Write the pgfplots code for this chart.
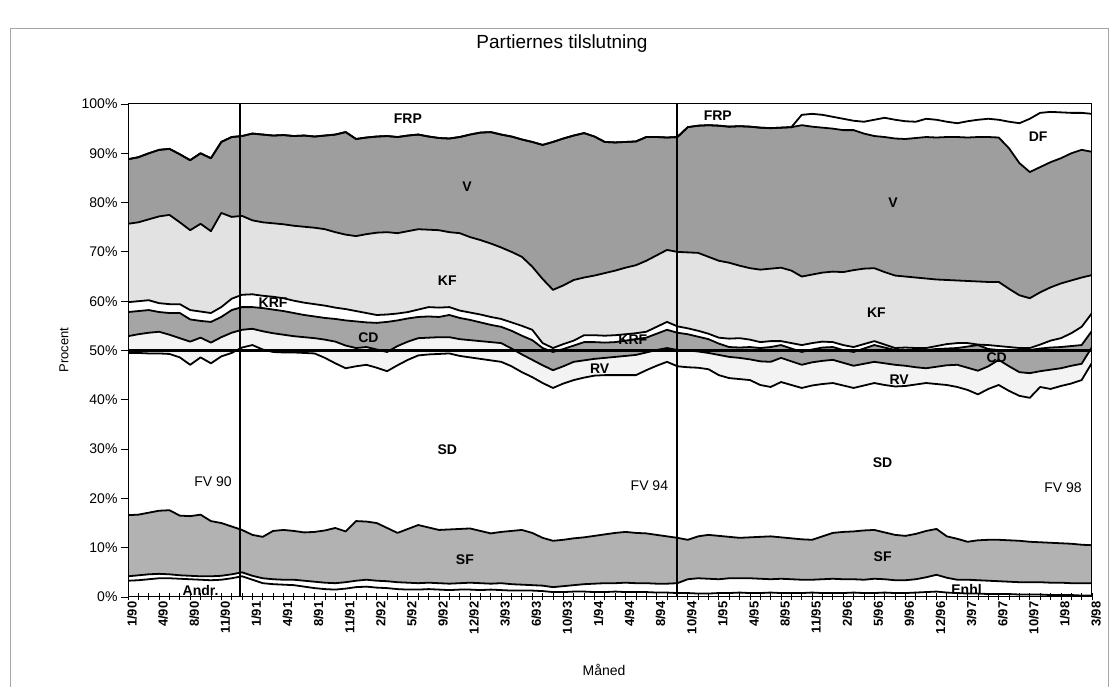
\documentclass[border=0pt]{standalone}
\usepackage{pgfplots}
\usepackage{pgfplotstable}
\usepackage{fontspec}
\setmainfont{Liberation Sans}
\pgfplotsset{compat=1.18}
\definecolor{vgray}{RGB}{158,158,158}
\definecolor{cdgray}{RGB}{165,165,165}
\definecolor{sfgray}{RGB}{178,178,178}
\definecolor{kflight}{RGB}{226,226,226}
\definecolor{rvlight}{RGB}{243,243,243}
\pgfplotstableread{
i andr enhl sf sd rv cd krf kf v df
0 3.3 4.2 16.6 49.5 52.9 57.8 59.8 75.7 88.8 88.8
1 3.4 4.4 16.7 49.5 53.3 58.0 60.0 76.0 89.2 89.2
2 3.6 4.6 17.1 49.4 53.6 58.2 60.2 76.6 90.0 90.0
3 3.8 4.7 17.5 49.4 53.8 57.8 59.6 77.2 90.7 90.7
4 3.8 4.6 17.6 49.3 53.2 57.6 59.4 77.5 90.9 90.9
5 3.7 4.4 16.5 48.6 52.5 57.6 59.4 76.0 89.8 89.8
6 3.6 4.3 16.4 47.1 51.8 56.3 58.2 74.4 88.6 88.6
7 3.5 4.2 16.7 48.6 52.6 56.0 57.9 75.7 90.0 90.0
8 3.4 4.2 15.4 47.4 51.6 55.8 57.6 74.2 89.0 89.0
9 3.5 4.3 15.0 48.8 52.7 56.8 58.8 77.9 92.3 92.3
10 3.8 4.6 14.3 49.5 53.6 58.2 60.5 77.1 93.3 93.3
11 4.2 5.0 13.6 50.6 54.2 58.8 61.3 77.3 93.5 93.5
12 3.5 4.3 12.6 51.1 54.4 58.8 61.4 76.4 94.0 94.0
13 2.8 3.8 12.2 50.2 53.9 58.6 61.1 76.0 93.8 93.8
14 2.6 3.6 13.4 49.7 53.5 58.3 60.9 75.8 93.6 93.6
15 2.5 3.5 13.6 49.6 53.2 58.0 60.6 75.6 93.7 93.7
16 2.4 3.5 13.4 49.6 52.9 57.6 60.1 75.3 93.5 93.5
17 2.1 3.3 13.1 49.5 52.7 57.2 59.7 75.1 93.6 93.6
18 1.8 3.1 13.2 49.4 52.5 56.9 59.4 74.9 93.4 93.4
19 1.6 2.9 13.5 48.5 52.2 56.6 59.1 74.6 93.6 93.6
20 1.5 2.8 14.0 47.4 51.8 56.4 58.7 74.0 93.8 93.8
21 1.7 3.0 13.3 46.4 51.0 56.1 58.4 73.5 94.3 94.3
22 2.0 3.3 15.4 46.8 50.5 55.9 58.0 73.2 92.9 92.9
23 2.1 3.5 15.3 47.1 50.7 55.7 57.6 73.6 93.2 93.2
24 1.9 3.3 15.0 46.5 50.2 55.6 57.2 73.9 93.4 93.4
25 1.8 3.2 14.0 45.8 49.7 55.8 57.3 74.0 93.5 93.5
26 1.6 3.0 13.0 47.0 50.9 56.1 57.5 73.8 93.3 93.3
27 1.5 2.9 13.8 48.1 51.8 56.5 57.8 74.2 93.6 93.6
28 1.5 2.8 14.6 49.0 52.5 56.8 58.3 74.6 93.8 93.8
29 1.6 2.9 14.1 49.2 52.6 56.9 58.8 74.5 93.4 93.4
30 1.5 2.8 13.6 49.3 52.7 56.8 58.7 74.4 93.1 93.1
31 1.4 2.7 13.7 49.4 52.7 57.2 58.8 74.0 93.0 93.0
32 1.5 2.8 13.8 48.9 52.3 56.6 58.1 73.8 93.3 93.3
33 1.5 2.9 13.9 48.6 52.1 56.2 57.7 73.0 93.8 93.8
34 1.4 2.8 13.4 48.3 51.9 55.7 57.3 72.4 94.2 94.2
35 1.5 2.7 12.9 48.0 51.7 55.2 56.8 71.7 94.3 94.3
36 1.4 2.8 13.2 47.7 51.5 54.8 56.4 70.9 93.8 93.8
37 1.3 2.6 13.4 46.8 50.4 54.0 55.7 70.0 93.4 93.4
38 1.3 2.5 13.6 45.6 49.2 53.0 55.0 69.0 92.8 92.8
39 1.3 2.4 13.0 44.6 48.1 52.1 54.2 67.0 92.3 92.3
40 1.2 2.3 12.0 43.4 47.0 50.5 51.5 64.5 91.7 91.7
41 1.0 2.0 11.4 42.4 46.0 49.7 50.5 62.3 92.3 92.3
42 1.0 2.2 11.6 43.3 46.8 50.3 51.3 63.2 93.0 93.0
43 1.1 2.4 11.9 44.0 47.7 51.0 52.0 64.3 93.6 93.6
44 1.1 2.6 12.1 44.5 48.0 51.7 53.1 64.8 94.1 94.1
45 1.0 2.7 12.4 44.9 48.3 51.7 53.1 65.2 93.4 93.4
46 1.0 2.8 12.7 45.0 48.5 51.6 53.0 65.7 92.3 92.3
47 1.1 2.8 13.0 45.0 48.7 51.7 53.1 66.2 92.2 92.2
48 1.0 2.9 13.2 45.0 48.9 52.0 53.3 66.8 92.3 92.3
49 1.0 2.8 13.0 45.0 49.1 52.3 53.5 67.3 92.4 92.4
50 1.0 2.8 12.9 46.0 49.6 52.6 53.8 68.2 93.3 93.3
51 0.9 2.7 12.6 46.9 50.1 53.4 54.8 69.3 93.3 93.3
52 0.9 2.7 12.3 47.7 50.5 54.2 55.8 70.4 93.2 93.2
53 0.8 2.8 12.0 46.8 50.1 53.6 54.9 70.0 93.3 93.3
54 0.8 3.6 11.6 46.6 50.0 53.3 54.5 69.9 95.3 95.3
55 0.7 3.8 12.3 46.5 49.8 52.8 54.0 69.8 95.6 95.6
56 0.7 3.7 12.6 46.2 49.5 52.3 53.4 69.0 95.7 95.7
57 0.8 3.6 12.4 45.0 49.1 51.4 52.6 68.2 95.6 95.6
58 0.8 3.8 12.2 44.4 48.7 50.7 52.4 67.8 95.4 95.4
59 0.9 3.8 12.0 44.2 48.5 50.6 52.5 67.2 95.5 95.5
60 0.8 3.8 12.1 44.0 48.2 50.7 52.2 66.7 95.4 95.4
61 0.8 3.7 12.2 43.0 47.8 50.5 51.7 66.4 95.2 95.2
62 0.9 3.6 12.3 42.6 47.7 50.7 51.9 66.6 95.1 95.1
63 0.8 3.7 12.1 43.6 48.5 51.1 51.9 66.8 95.2 95.2
64 0.8 3.6 11.9 43.0 47.8 50.4 51.5 66.2 95.3 95.3
65 0.8 3.5 11.7 42.4 47.1 49.7 51.1 65.0 95.7 97.8
66 0.9 3.5 11.6 42.9 47.6 50.2 51.5 65.4 95.4 98.0
67 0.8 3.6 12.3 43.2 47.9 50.6 51.8 65.8 95.2 97.8
68 0.8 3.7 13.0 43.4 48.1 50.7 51.7 66.0 95.0 97.4
69 0.8 3.6 13.2 42.9 47.5 50.1 51.1 65.9 94.7 97.0
70 0.9 3.6 13.3 42.4 46.9 49.7 50.7 66.3 94.7 96.6
71 0.8 3.5 13.5 42.9 47.3 50.4 51.3 66.6 94.0 96.4
72 0.8 3.7 13.6 43.4 47.7 51.1 51.9 66.7 93.5 96.8
73 0.9 3.6 13.1 43.0 47.4 50.6 51.2 65.9 93.3 97.2
74 0.8 3.4 12.6 42.7 47.1 50.1 50.5 65.2 93.0 96.8
75 0.8 3.4 12.4 42.8 46.9 50.1 50.6 65.0 92.9 96.5
76 0.9 3.6 12.8 43.1 46.6 50.1 50.5 64.8 93.1 96.4
77 1.0 4.0 13.4 43.4 46.4 50.1 50.5 64.6 93.3 97.0
78 1.1 4.5 13.8 43.2 46.7 50.3 50.9 64.4 93.2 96.8
79 0.9 3.9 12.3 43.0 47.0 50.4 51.3 64.3 93.3 96.4
80 0.8 3.5 11.8 42.6 47.1 50.5 51.5 64.2 93.3 96.1
81 0.7 3.5 11.2 42.0 46.5 50.8 51.5 64.1 93.2 96.5
82 0.7 3.4 11.5 41.1 45.9 51.1 51.2 64.0 93.3 96.8
83 0.6 3.3 11.6 42.2 46.8 50.3 51.1 63.9 93.3 97.0
84 0.6 3.2 11.6 43.0 48.1 50.1 50.9 63.9 93.2 96.8
85 0.6 3.1 11.5 41.8 46.8 50.1 50.7 62.5 91.0 96.4
86 0.5 3.0 11.4 40.8 45.6 50.1 50.5 61.2 88.0 96.1
87 0.5 3.0 11.2 40.4 45.4 50.1 50.5 60.6 86.2 97.0
88 0.5 3.0 11.1 42.6 45.8 50.4 51.2 61.8 87.2 98.2
89 0.4 2.9 11.0 42.2 46.1 50.6 52.0 62.8 88.2 98.4
90 0.4 2.9 10.9 42.8 46.4 50.7 52.5 63.6 89.0 98.3
91 0.4 2.8 10.8 43.3 46.9 50.9 53.5 64.2 90.0 98.2
92 0.3 2.8 10.6 44.0 47.3 51.1 54.8 64.8 90.7 98.2
93 0.3 2.8 10.5 47.5 50.7 54.0 57.6 65.3 90.3 98.0
}\data
\begin{document}
\begin{tikzpicture}
\useasboundingbox (0,0) rectangle (1117pt,687pt);
\draw[gray!70, line width=0.8pt] (10pt,0) -- (10pt,659pt) -- (1108pt,659pt) -- (1108pt,0);
\node[font=\fontsize{19}{22}\selectfont] at (562pt,643pt) {Partiernes tilslutning};
\node[font=\fontsize{13}{15}\selectfont, rotate=90] at (64pt,337pt) {Procent};
\node[font=\fontsize{14}{16}\selectfont] at (604pt,17pt) {Måned};
\begin{axis}[
  at={(128pt,90pt)}, anchor=south west,
  scale only axis, width=964pt, height=493pt,
  xmin=0, xmax=93, ymin=0, ymax=100,
  axis on top,
  axis line style={line width=1pt},
  xtick={0,3,...,93},
  xticklabels={1/90,4/90,8/90,11/90,1/91,4/91,8/91,11/91,2/92,5/92,9/92,12/92,3/93,6/93,10/93,1/94,4/94,8/94,10/94,1/95,4/95,8/95,11/95,2/96,5/96,9/96,12/96,3/97,6/97,10/97,1/98,3/98},
  minor x tick num=2,
  xticklabel style={rotate=90, anchor=east, font=\bfseries\fontsize{13}{15}\selectfont, inner sep=1pt},
  x tick label style={yshift=-4pt},
  ytick={0,10,...,100},
  yticklabels={0\%,10\%,20\%,30\%,40\%,50\%,60\%,70\%,80\%,90\%,100\%},
  yticklabel style={font=\fontsize{14}{16}\selectfont},
  xtick pos=bottom, ytick pos=left,
  xtick align=center, ytick align=outside,
  major tick length=7pt, minor tick length=7pt,
  every tick/.style={black, line width=0.8pt},
  clip=true,
]
% fills, top to bottom
\addplot[draw=none, fill=white] table[x=i,y=df]{\data} \closedcycle;
\addplot[draw=none, fill=vgray] table[x=i,y=v]{\data} \closedcycle;
\addplot[draw=none, fill=kflight] table[x=i,y=kf]{\data} \closedcycle;
\addplot[draw=none, fill=white] table[x=i,y=krf]{\data} \closedcycle;
\addplot[draw=none, fill=cdgray] table[x=i,y=cd]{\data} \closedcycle;
\addplot[draw=none, fill=rvlight] table[x=i,y=rv]{\data} \closedcycle;
\addplot[draw=none, fill=white] table[x=i,y=sd]{\data} \closedcycle;
\addplot[draw=none, fill=sfgray] table[x=i,y=sf]{\data} \closedcycle;
\addplot[draw=none, fill=white] table[x=i,y=enhl]{\data} \closedcycle;
\addplot[draw=none, fill=white] table[x=i,y=andr]{\data} \closedcycle;
% boundary lines
\tikzset{bl/.style={black, line width=1.8pt, line join=round, no marks}}
\addplot[bl] table[x=i,y=df]{\data};
\addplot[bl] table[x=i,y=v]{\data};
\addplot[bl] table[x=i,y=kf]{\data};
\addplot[bl] table[x=i,y=krf]{\data};
\addplot[bl] table[x=i,y=cd]{\data};
\addplot[bl] table[x=i,y=rv]{\data};
\addplot[bl] table[x=i,y=sd]{\data};
\addplot[bl] table[x=i,y=sf]{\data};
\addplot[bl] table[x=i,y=enhl]{\data};
\addplot[bl] table[x=i,y=andr]{\data};
% reference lines
\draw[line width=2.6pt] (axis cs:0,50) -- (axis cs:93,50);
\draw[line width=1.8pt] (axis cs:10.8,0) -- (axis cs:10.8,100);
\draw[line width=1.8pt] (axis cs:53,0) -- (axis cs:53,100);
% labels
\begin{scope}[every node/.style={font=\bfseries\fontsize{14}{16}\selectfont, inner sep=0pt}]
\node at (axis cs:27,97.1) {FRP};
\node at (axis cs:56.9,97.6) {FRP};
\node at (axis cs:32.7,83.2) {V};
\node at (axis cs:73.8,80.0) {V};
\node at (axis cs:87.8,93.3) {DF};
\node at (axis cs:30.8,64.2) {KF};
\node at (axis cs:72.2,57.6) {KF};
\node at (axis cs:14,59.6) {KRF};
\node at (axis cs:48.7,52.1) {KRF};
\node at (axis cs:23.2,52.5) {CD};
\node at (axis cs:83.8,48.6) {CD};
\node at (axis cs:45.5,46.4) {RV};
\node at (axis cs:74.4,44.0) {RV};
\node at (axis cs:30.8,29.8) {SD};
\node at (axis cs:72.8,27.2) {SD};
\node at (axis cs:32.5,7.5) {SF};
\node at (axis cs:72.8,8.1) {SF};
\node at (axis cs:7,1.4) {Andr.};
\node at (axis cs:80.9,1.6) {Enhl};
\end{scope}
\begin{scope}[every node/.style={font=\fontsize{14}{16}\selectfont, inner sep=0pt}]
\node at (axis cs:8.2,23.3) {FV 90};
\node at (axis cs:50.3,22.5) {FV 94};
\node at (axis cs:90.2,22.1) {FV 98};
\end{scope}
\end{axis}
\end{tikzpicture}
\end{document}
